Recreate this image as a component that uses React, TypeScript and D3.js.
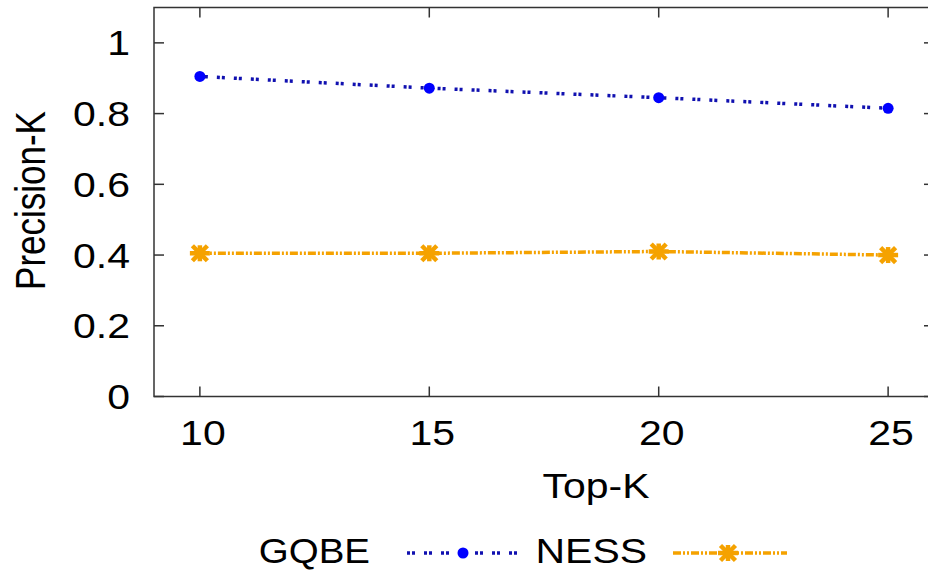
import React from "react";
import * as d3 from "d3";

const topK = [10, 15, 20, 25];
const gqbe = [0.905, 0.872, 0.845, 0.815];
const ness = [0.405, 0.405, 0.41, 0.4];
const yTicks = [0, 0.2, 0.4, 0.6, 0.8, 1];
const yTickLabels = ["0", "0.2", "0.4", "0.6", "0.8", "1"];
const xTickLabels = ["10", "15", "20", "25"];
const seriesNames = ["GQBE", "NESS"];

const W = 928;
const H = 571;
const FONT = "'Liberation Sans', Arial, Helvetica, sans-serif";
const FS = 35;
const SX = 1.17;

function SText({
  x,
  y,
  anchor,
  children,
  dy,
  sx,
}: {
  x: number;
  y: number;
  anchor: "start" | "middle" | "end";
  children: React.ReactNode;
  dy?: string;
  sx?: number;
}) {
  return (
    <text
      transform={`translate(${x},${y}) scale(${sx ?? SX},1)`}
      textAnchor={anchor}
      fontSize={FS}
      dy={dy}
      fill="#000"
    >
      {children}
    </text>
  );
}

function Star({ x, y, r, color }: { x: number; y: number; r: number; color: string }) {
  const d = r * 0.75;
  return (
    <g stroke={color} strokeWidth={4.5} strokeLinecap="butt">
      <line x1={x - r} y1={y} x2={x + r} y2={y} />
      <line x1={x} y1={y - r * 0.8} x2={x} y2={y + r * 0.8} />
      <line x1={x - d} y1={y - d} x2={x + d} y2={y + d} />
      <line x1={x - d} y1={y + d} x2={x + d} y2={y - d} />
    </g>
  );
}

export default function App() {
  const x = d3.scaleLinear().domain([9, 26]).range([154, 934]);
  const y = d3.scaleLinear().domain([0, 1.1]).range([396.5, 7.5]);
  const line = d3
    .line<number>()
    .x((_, i) => x(topK[i]))
    .y((d) => y(d));

  const blue = "#0000ff";
  const blueLine = "#1010b0";
  const orange = "#f5a200";
  const frame = "#333";

  const legY = 553;

  return (
    <svg
      width={W}
      height={H}
      style={{ position: "absolute", left: 0, top: 0, background: "#fff" }}
      fontFamily={FONT}
    >
      <rect x={0} y={0} width={W} height={H} fill="#fff" />
      {/* frame */}
      <rect
        x={x(9)}
        y={y(1.1)}
        width={x(26) - x(9)}
        height={y(0) - y(1.1)}
        fill="none"
        stroke={frame}
        strokeWidth={1.5}
      />
      {/* y ticks */}
      {yTicks.map((t, i) => (
        <g key={"yt" + i}>
          <line x1={x(9)} x2={x(9) + 10} y1={y(t)} y2={y(t)} stroke={frame} strokeWidth={1.5} />
          <line x1={x(26)} x2={x(26) - 10} y1={y(t)} y2={y(t)} stroke={frame} strokeWidth={1.5} />
          <SText x={130} y={y(t)} anchor="end" dy="0.36em">
            {yTickLabels[i]}
          </SText>
        </g>
      ))}
      {/* x ticks */}
      {topK.map((t, i) => (
        <g key={"xt" + i}>
          <line x1={x(t)} x2={x(t)} y1={y(0)} y2={y(0) - 10} stroke={frame} strokeWidth={1.5} />
          <line x1={x(t)} x2={x(t)} y1={y(1.1)} y2={y(1.1) + 10} stroke={frame} strokeWidth={1.5} />
          <SText x={x(t) + 3} y={445} anchor="middle">
            {xTickLabels[i]}
          </SText>
        </g>
      ))}
      {/* axis titles */}
      <text
        transform={`translate(45, 200.5) rotate(-90) scale(1, ${SX + 0.05})`}
        textAnchor="middle"
        fontSize={FS}
        fill="#000"
      >
        Precision-K
      </text>
      <SText x={596} y={498} anchor="middle">
        Top-K
      </SText>

      {/* GQBE */}
      <path
        d={line(gqbe) || ""}
        fill="none"
        stroke={blueLine}
        strokeWidth={3.5}
        strokeDasharray="3,2,3,9"
      />
      {gqbe.map((v, i) => (
        <circle key={"g" + i} cx={x(topK[i])} cy={y(v)} r={5.5} fill={blue} />
      ))}

      {/* NESS */}
      <path
        d={line(ness) || ""}
        fill="none"
        stroke={orange}
        strokeWidth={3.5}
        strokeDasharray="8,2,2,2,2,2"
      />
      {ness.map((v, i) => (
        <Star key={"n" + i} x={x(topK[i])} y={y(v)} r={10} color={orange} />
      ))}

      {/* legend */}
      <SText x={370} y={563} anchor="end" sx={1.1}>
        {seriesNames[0]}
      </SText>
      <line x1={407} x2={518} y1={legY} y2={legY} stroke={blueLine} strokeWidth={3.5} strokeDasharray="3,2,3,9" />
      <circle cx={463} cy={legY} r={5.5} fill={blue} />
      <SText x={647} y={563} anchor="end">
        {seriesNames[1]}
      </SText>
      <line x1={673} x2={787} y1={legY} y2={legY} stroke={orange} strokeWidth={3.5} strokeDasharray="8,2,2,2,2,2" />
      <Star x={728} y={legY} r={10} color={orange} />
    </svg>
  );
}
